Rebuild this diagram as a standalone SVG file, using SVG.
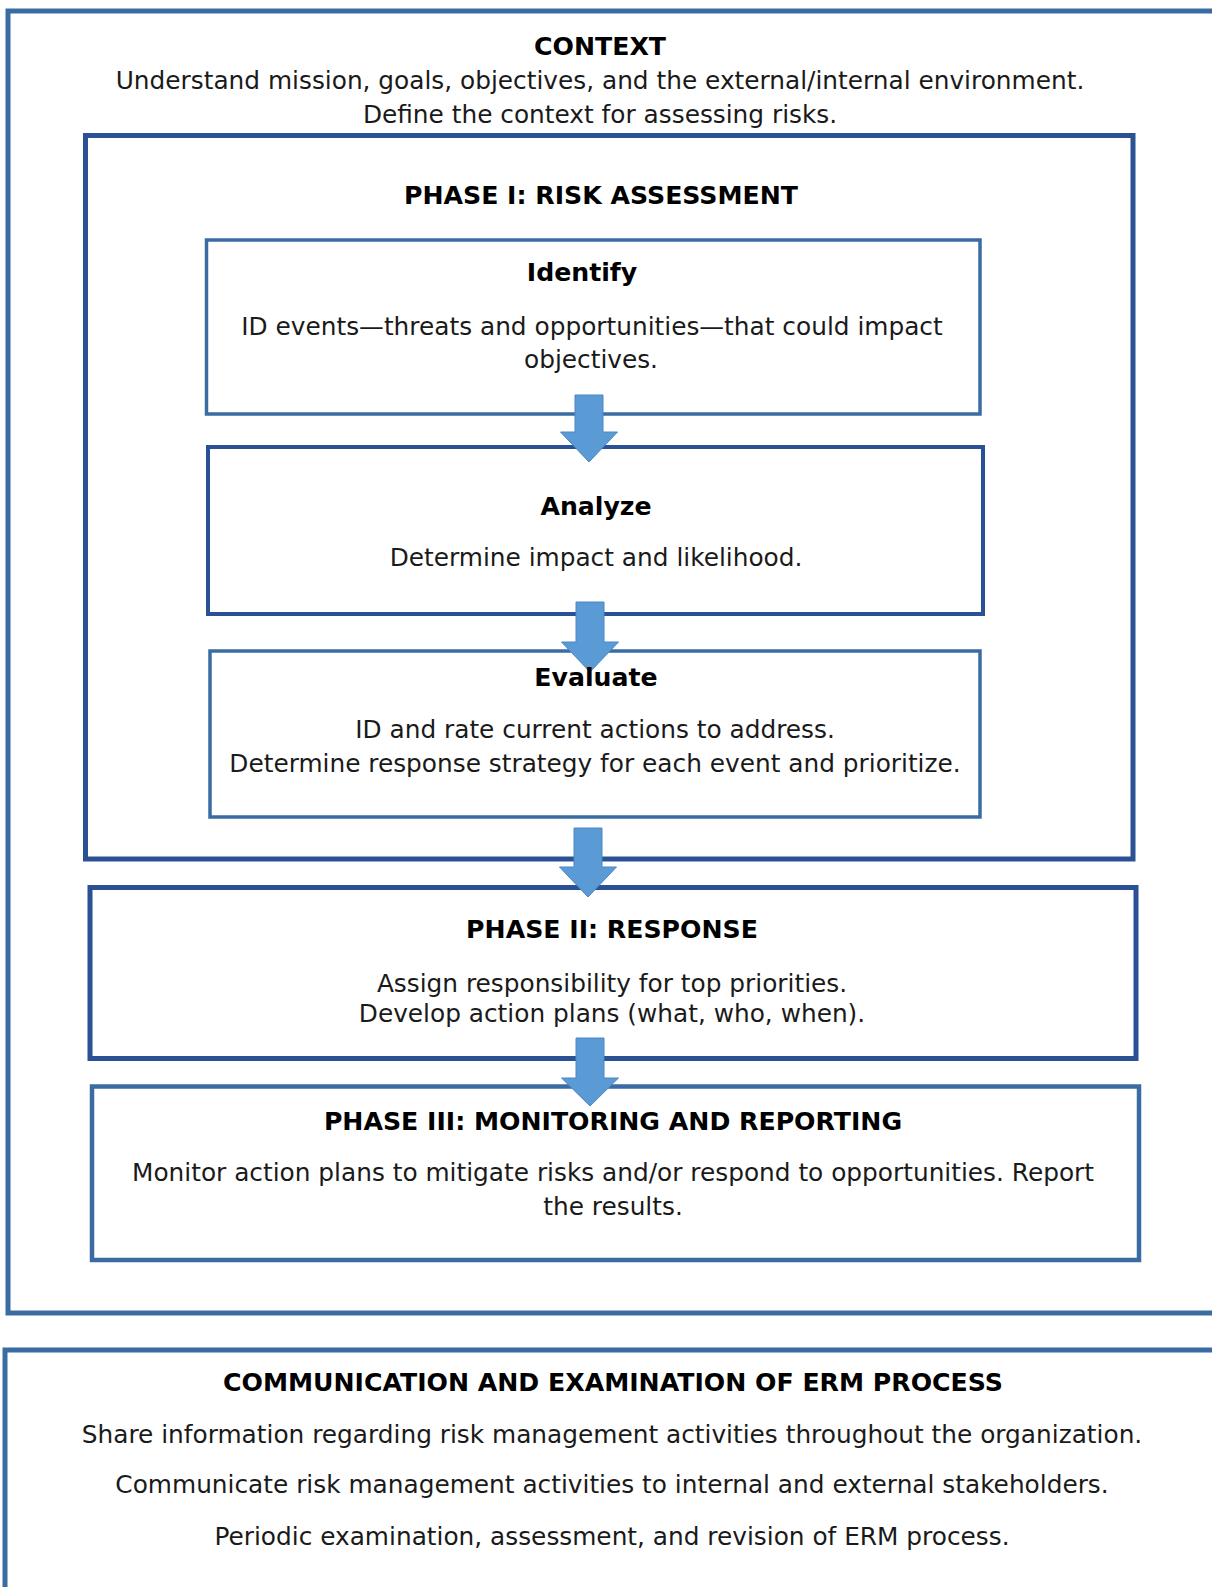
<svg xmlns="http://www.w3.org/2000/svg" width="1212" height="1587" viewBox="0 0 1212 1587">
<style>
  .t { font-family: "DejaVu Sans", Verdana, sans-serif; font-size: 24.8px; fill: #1a1a1a; text-anchor: middle; }
  .h { font-family: "DejaVu Sans", Verdana, sans-serif; font-size: 25.2px; font-weight: bold; fill: #000; text-anchor: middle; }
  .steel { fill: none; stroke: #3a6ca3; }
  .dark { fill: none; stroke: #2a5195; }
  .arrow { fill: #5b9bd5; stroke: #4a87c4; stroke-width: 1; }
</style>
<rect width="1212" height="1587" fill="#ffffff"/>
<g id="context">
  <rect class="steel" x="8" y="11" width="1230" height="1302" stroke-width="5"/>
  <text class="h" x="600" y="55">CONTEXT</text>
  <text class="t" x="600" y="89">Understand mission, goals, objectives, and the external/internal environment.</text>
  <text class="t" x="600" y="123">Define the context for assessing risks.</text>
</g>
<g id="phase1">
  <rect class="dark" x="85.5" y="135.5" width="1047.5" height="723.5" stroke-width="5"/>
  <text class="h" x="601" y="204">PHASE I: RISK ASSESSMENT</text>
</g>
<g id="identify">
  <rect class="steel" x="206.5" y="240" width="773.5" height="174" stroke-width="3.5"/>
  <text class="h" x="582" y="281">Identify</text>
  <text class="t" x="592" y="335">ID events—threats and opportunities—that could impact</text>
  <text class="t" x="591" y="368">objectives.</text>
</g>
<g id="analyze">
  <rect class="dark" x="208" y="447" width="775" height="167" stroke-width="4"/>
  <text class="h" x="596" y="515">Analyze</text>
  <text class="t" x="596" y="566">Determine impact and likelihood.</text>
</g>
<g id="evaluate">
  <rect class="steel" x="210" y="651" width="770" height="166" stroke-width="3.5"/>
  <text class="t" x="595" y="738">ID and rate current actions to address.</text>
  <text class="t" x="595" y="772">Determine response strategy for each event and prioritize.</text>
</g>
<g id="phase2">
  <rect class="dark" x="90" y="887.5" width="1046" height="171" stroke-width="5"/>
  <text class="h" x="612" y="938">PHASE II: RESPONSE</text>
  <text class="t" x="612" y="992">Assign responsibility for top priorities.</text>
  <text class="t" x="612" y="1022">Develop action plans (what, who, when).</text>
</g>
<g id="phase3">
  <rect class="steel" x="92" y="1086.5" width="1047" height="173.5" stroke-width="4.5"/>
  <text class="t" x="613" y="1181">Monitor action plans to mitigate risks and/or respond to opportunities. Report</text>
  <text class="t" x="613" y="1215">the results.</text>
</g>
<g id="communication">
  <rect class="steel" x="5" y="1350" width="1240" height="300" stroke-width="5"/>
  <text class="h" x="613" y="1391">COMMUNICATION AND EXAMINATION OF ERM PROCESS</text>
  <text class="t" x="612" y="1443">Share information regarding risk management activities throughout the organization.</text>
  <text class="t" x="612" y="1493">Communicate risk management activities to internal and external stakeholders.</text>
  <text class="t" x="612" y="1545">Periodic examination, assessment, and revision of ERM process.</text>
</g>
<g id="connectors">
  <polygon class="arrow" points="575,395 603,395 603,432 617.5,432 589,462 560.5,432 575,432"/>
  <polygon class="arrow" points="576,602 604,602 604,642 618.5,642 590,672 561.5,642 576,642"/>
  <polygon class="arrow" points="574,828 602,828 602,867 616.5,867 588,897 559.5,867 574,867"/>
  <polygon class="arrow" points="576,1038 604,1038 604,1078 618.5,1078 590,1106 561.5,1078 576,1078"/>
</g>
<g id="labels-over">
  <text class="h" x="596" y="686">Evaluate</text>
  <text class="h" x="613" y="1130">PHASE III: MONITORING AND REPORTING</text>
</g>
</svg>
